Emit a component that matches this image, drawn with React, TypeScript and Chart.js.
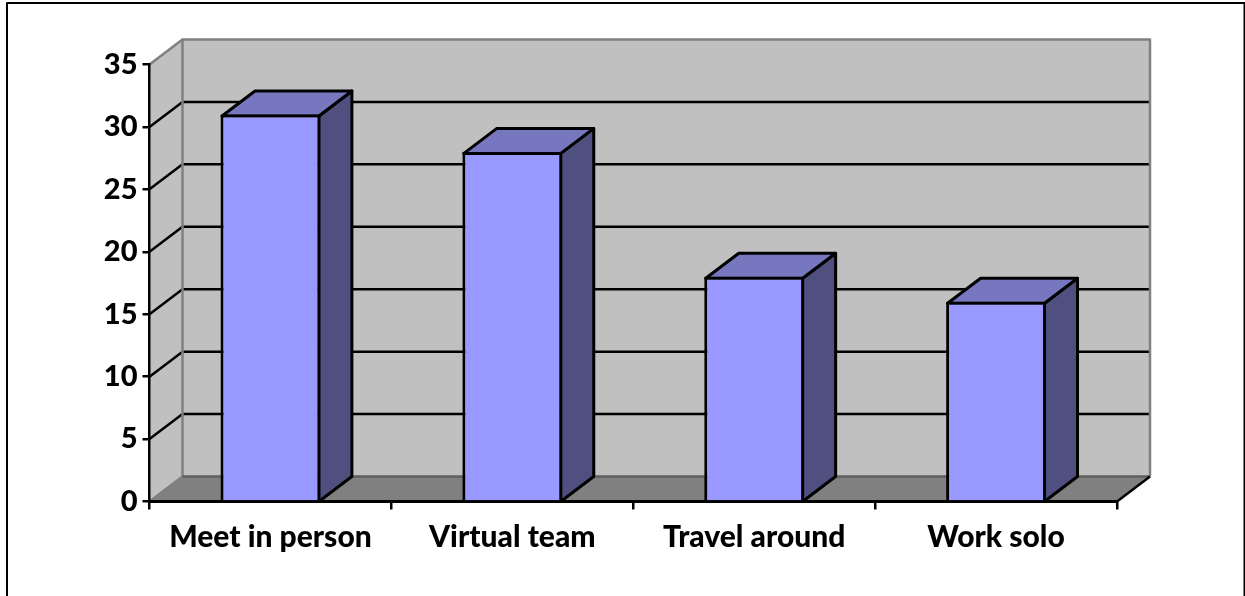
import React, { useEffect, useRef } from "react";
import { Chart, registerables } from "chart.js";

Chart.register(...registerables);

const categories = ["Meet in person", "Virtual team", "Travel around", "Work solo"];
const values = [31, 28, 18, 16];
const yMax = 35;
const yStep = 5;

const DX = 33;
const DY = -25;
const FONT_FAMILY = 'Lato, "Open Sans", sans-serif';
const EDGE = 3;

const poly = (ctx: CanvasRenderingContext2D, pts: number[][], fill: string | null, stroke: string | null, lw = 2.5) => {
  ctx.beginPath();
  pts.forEach((p, i) => (i ? ctx.lineTo(p[0], p[1]) : ctx.moveTo(p[0], p[1])));
  if (fill) {
    ctx.closePath();
    ctx.fillStyle = fill;
    ctx.fill();
  }
  if (stroke) {
    ctx.strokeStyle = stroke;
    ctx.lineWidth = lw;
    ctx.lineJoin = "round";
    ctx.stroke();
  }
};

const box3d = {
  id: "box3d",
  beforeDraw(chart: any) {
    const { ctx, chartArea: a, scales } = chart;
    const y = scales.y;
    const { left: l, right: r, top: t, bottom: b } = a;
    ctx.save();
    ctx.fillStyle = "#ffffff";
    ctx.fillRect(0, 0, chart.width, chart.height);
    // outer frame (open at the bottom)
    poly(ctx, [[7, 596], [7, 3], [1244.5, 3], [1244.5, 596]], null, "#000000", 2);
    // back wall
    poly(ctx, [[l + DX, t + DY], [r + DX, t + DY], [r + DX, b + DY], [l + DX, b + DY]], "#c0c0c0", null);
    // left wall
    poly(ctx, [[l, t], [l + DX, t + DY], [l + DX, b + DY], [l, b]], "#c0c0c0", null);
    // floor
    poly(ctx, [[l, b], [l + DX, b + DY], [r + DX, b + DY], [r, b]], "#808080", null);
    // gridlines
    for (let v = yStep; v < yMax; v += yStep) {
      const py = y.getPixelForValue(v);
      poly(ctx, [[l, py], [l + DX, py + DY], [r + DX, py + DY]], null, "#000000", 2.5);
    }
    // wall edges
    poly(ctx, [[l, b], [l + DX, b + DY], [l + DX, t + DY], [l, t]], null, "#808080", 2.5);
    poly(ctx, [[l + DX, t + DY], [r + DX, t + DY], [r + DX, b + DY]], null, "#808080", 2.5);
    poly(ctx, [[l + DX, b + DY], [r + DX, b + DY]], null, "#5f5f5f", 2.5);
    // floor right edge
    poly(ctx, [[r, b], [r + DX, b + DY]], null, "#000000", 2.5);
    ctx.restore();
  },
  beforeDatasetsDraw(chart: any) {
    const { ctx, scales } = chart;
    const base = scales.y.getPixelForValue(0);
    ctx.save();
    chart.getDatasetMeta(0).data.forEach((bar: any) => {
      const x0 = bar.x - bar.width / 2 + EDGE / 2;
      const x1 = bar.x + bar.width / 2 - EDGE / 2;
      const top = bar.y + EDGE / 2;
      poly(ctx, [[x1, top], [x1 + DX, top + DY], [x1 + DX, base + DY], [x1, base]], "#4f4f80", "#000000", EDGE);
      poly(ctx, [[x0, top], [x0 + DX, top + DY], [x1 + DX, top + DY], [x1, top]], "#7777bf", "#000000", EDGE);
    });
    ctx.restore();
  },
};

export default function App() {
  const ref = useRef<HTMLCanvasElement>(null);
  useEffect(() => {
    document.body.style.margin = "0";
    const chart = new Chart(ref.current!, {
      type: "bar",
      data: {
        labels: categories,
        datasets: [
          {
            data: values,
            backgroundColor: "#9999ff",
            borderColor: "#000000",
            borderWidth: EDGE,
            barPercentage: 0.826,
            categoryPercentage: 0.5,
          },
        ],
      },
      plugins: [box3d],
      options: {
        responsive: false,
        animation: false,
        devicePixelRatio: 1,
        layout: { padding: { top: 64.5, right: 128, left: 0, bottom: 0 } },
        plugins: { legend: { display: false }, tooltip: { enabled: false }, title: { display: false } },
        scales: {
          x: {
            type: "category",
            afterFit: (s: any) => { s.height = 94.5; },
            grid: { drawOnChartArea: false, color: "#000000", lineWidth: 2.5, tickLength: 8 },
            border: { color: "#000000", width: 3 },
            ticks: { color: "#000000", font: { family: FONT_FAMILY, size: 30, weight: "900" }, padding: 10, maxRotation: 0 },
          },
          y: {
            type: "linear",
            min: 0,
            max: yMax,
            afterFit: (s: any) => { s.width = 149.5; },
            grid: { drawOnChartArea: false, color: "#000000", lineWidth: 2.5, tickLength: 7 },
            border: { color: "#000000", width: 2.5 },
            ticks: { stepSize: yStep, color: "#000000", font: { family: FONT_FAMILY, size: 29, weight: "900" }, padding: 5 },
          },
        },
      },
    } as any);
    return () => chart.destroy();
  }, []);
  return <canvas ref={ref} width={1245} height={596} style={{ display: "block" }} />;
}
